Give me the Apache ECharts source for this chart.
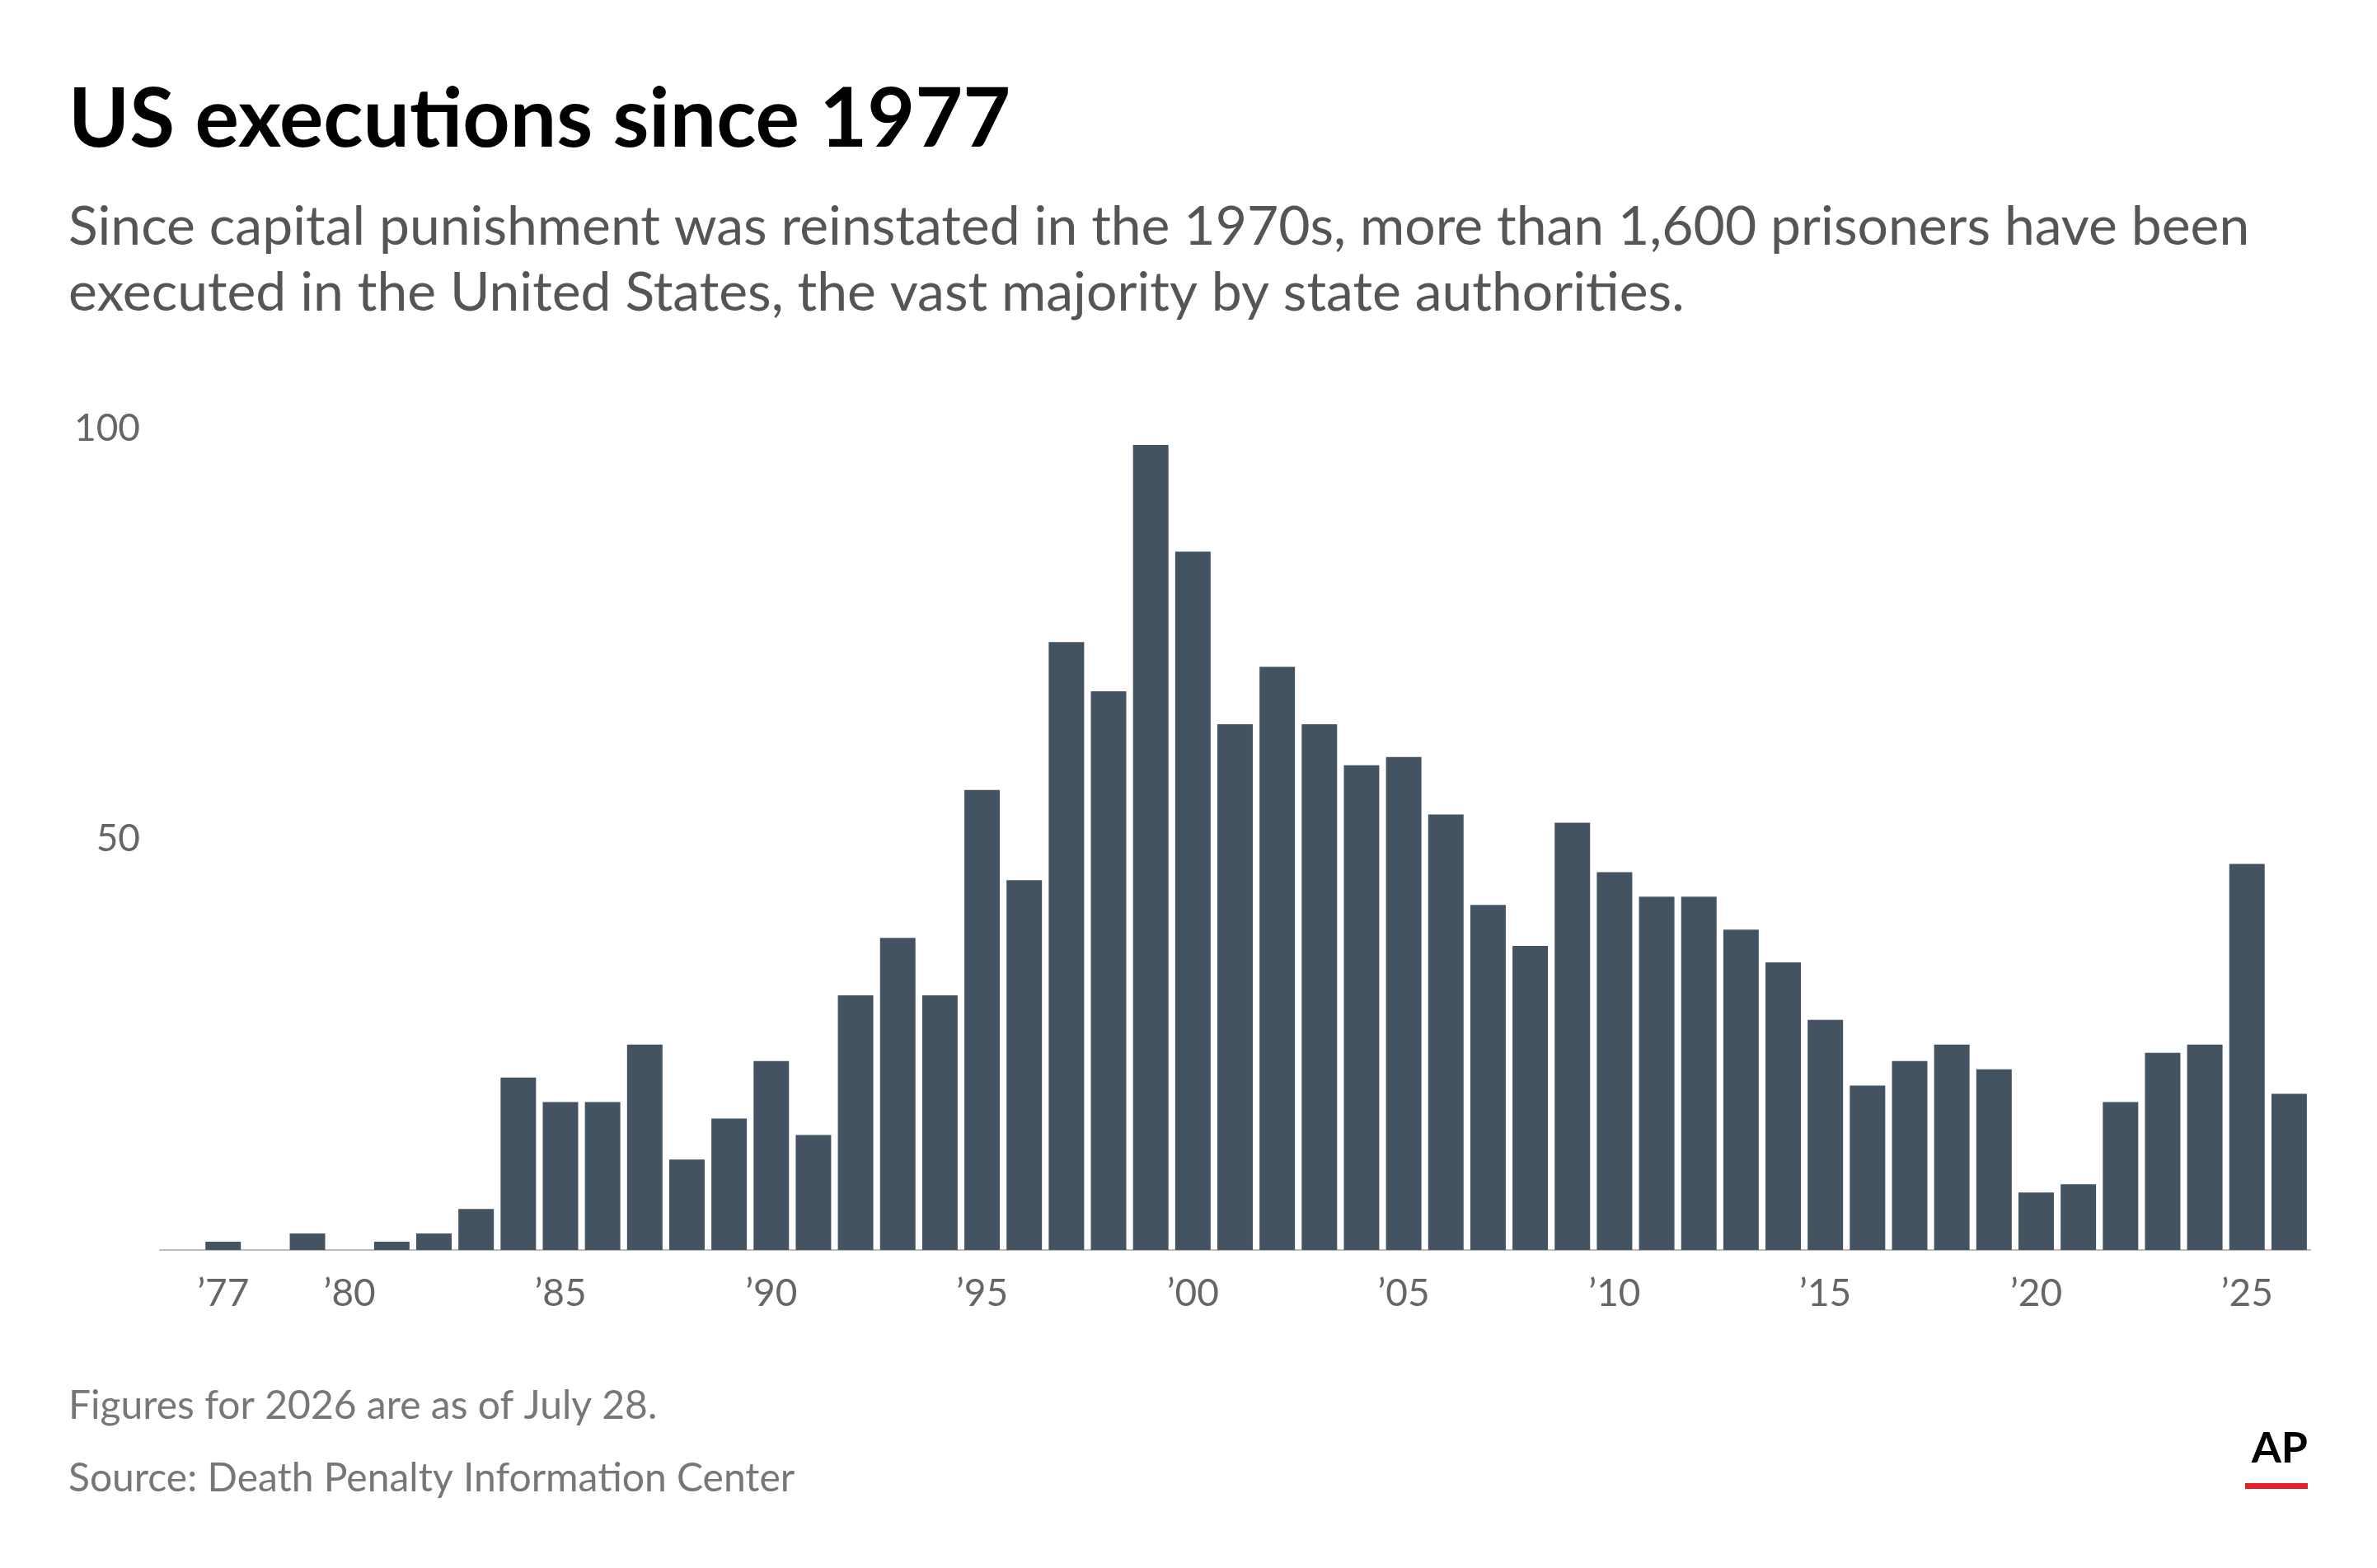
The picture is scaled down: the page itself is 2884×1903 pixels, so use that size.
<!DOCTYPE html>
<html><head><meta charset="utf-8">
<script src="https://cdn.jsdelivr.net/npm/echarts@6/dist/echarts.min.js"></script>
<style>html,body{margin:0;padding:0;background:#fff}#c{width:2884px;height:1903px}</style>
</head><body><div id="c"></div>
<script>
const years = [];
for (let y = 1976; y <= 2026; y++) years.push(String(y));
const executions = [null,1,0,2,0,1,2,5,21,18,18,25,11,16,23,14,31,38,31,56,45,74,68,98,85,64,71,64,59,60,53,42,37,52,46,43,43,39,35,28,20,23,25,22,7,8,18,24,25,47,19];
const labeledYears = ['1977','1980','1985','1990','1995','2000','2005','2010','2015','2020','2025'];
const yTicks = [50, 100];
const F = 'Lato, "Noto Sans", sans-serif';
const chart = echarts.init(document.getElementById('c'));
chart.setOption({
  animation:false,
  backgroundColor:'#fff',
  grid:{left:194,right:81,top:520,bottom:386},
  xAxis:{type:'category',data:years,
    axisLine:{lineStyle:{color:'#bbb',width:2}},axisTick:{show:false},
    axisLabel:{interval:0,margin:30,fontFamily:F,fontSize:46,color:'#666',
      formatter:v=>labeledYears.includes(v)?'\u2019'+v.slice(2):''}},
  yAxis:{type:'value',min:0,max:100,interval:50,splitLine:{show:false},
    axisLabel:{fontFamily:F,fontSize:46,color:'#666',margin:24,
      formatter:v=>yTicks.includes(v)?String(v):''}},
  series:[{type:'bar',data:executions,barCategoryGap:'16%',itemStyle:{color:'#435361'}}],
  graphic:[
    {type:'text',left:83,top:96,style:{text:'US executions since 1977',font:'bold 100px '+F,fill:'#000'}},
    {type:'text',left:83,top:236,style:{text:'Since capital punishment was reinstated in the 1970s, more than 1,600 prisoners have been\nexecuted in the United States, the vast majority by state authorities.',font:'66px '+F,fill:'#555',lineHeight:80}},
    {type:'text',left:83,top:1683,style:{text:'Figures for 2026 are as of July 28.',font:'48px '+F,fill:'#777'}},
    {type:'text',left:83,top:1771,style:{text:'Source: Death Penalty Information Center',font:'48px '+F,fill:'#777'}},
    {type:'text',right:84,top:1732,style:{text:'AP',font:'bold 52px '+F,fill:'#000'}},
    {type:'rect',right:84,top:1800,shape:{width:76,height:7},style:{fill:'#e4202e'}}
  ]
});
</script></body></html>
